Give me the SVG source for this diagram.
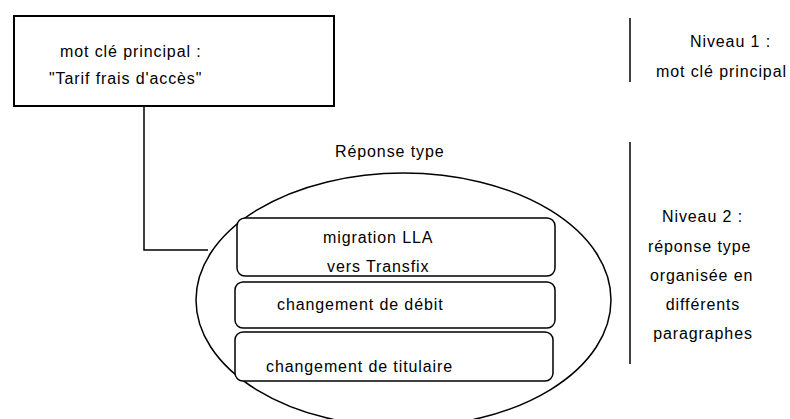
<svg xmlns="http://www.w3.org/2000/svg" width="790" height="419" viewBox="0 0 790 419">
<style>
text{font-family:"Liberation Sans",Arial,sans-serif;font-size:16px;letter-spacing:0.9px;fill:#000}
.b{fill:#fff;stroke:#000;stroke-width:1.5}
.l{fill:none;stroke:#000;stroke-width:1.5}
.m{text-anchor:middle}
</style>
<rect width="790" height="419" fill="#fff"/>
<g id="connectors">
<polyline class="l" points="144,106 144,250 208,250"/>
</g>
<g id="main-keyword">
<rect x="14" y="16" width="320" height="90" fill="#fff" stroke="#000" stroke-width="2"/>
<text x="60" y="57">mot clé principal :</text>
<text x="49" y="84">"Tarif frais d'accès"</text>
</g>
<g id="response-type">
<text x="335" y="157">Réponse type</text>
<ellipse class="l" cx="403.5" cy="300" rx="207.5" ry="127"/>
</g>
<g id="para1">
<rect class="b" x="237" y="218" width="318" height="58" rx="8"/>
<text x="323" y="243">migration LLA</text>
<text x="327" y="272">vers Transfix</text>
</g>
<g id="para2">
<rect class="b" x="235" y="282" width="320" height="46" rx="8"/>
<text x="277" y="310">changement de débit</text>
</g>
<g id="para3">
<rect class="b" x="235" y="332" width="318" height="49" rx="8"/>
<text x="266" y="372">changement de titulaire</text>
</g>
<g id="level1">
<line class="l" x1="630" y1="18" x2="630" y2="82"/>
<text x="690" y="47">Niveau 1 :</text>
<text x="656" y="77">mot clé principal</text>
</g>
<g id="level2">
<line class="l" x1="630" y1="142" x2="630" y2="364"/>
<text x="662" y="222">Niveau 2 :</text>
<text x="648" y="252">réponse type</text>
<text x="650" y="281">organisée en</text>
<text class="m" x="703" y="310">différents</text>
<text class="m" x="703" y="339">paragraphes</text>
</g>
</svg>
